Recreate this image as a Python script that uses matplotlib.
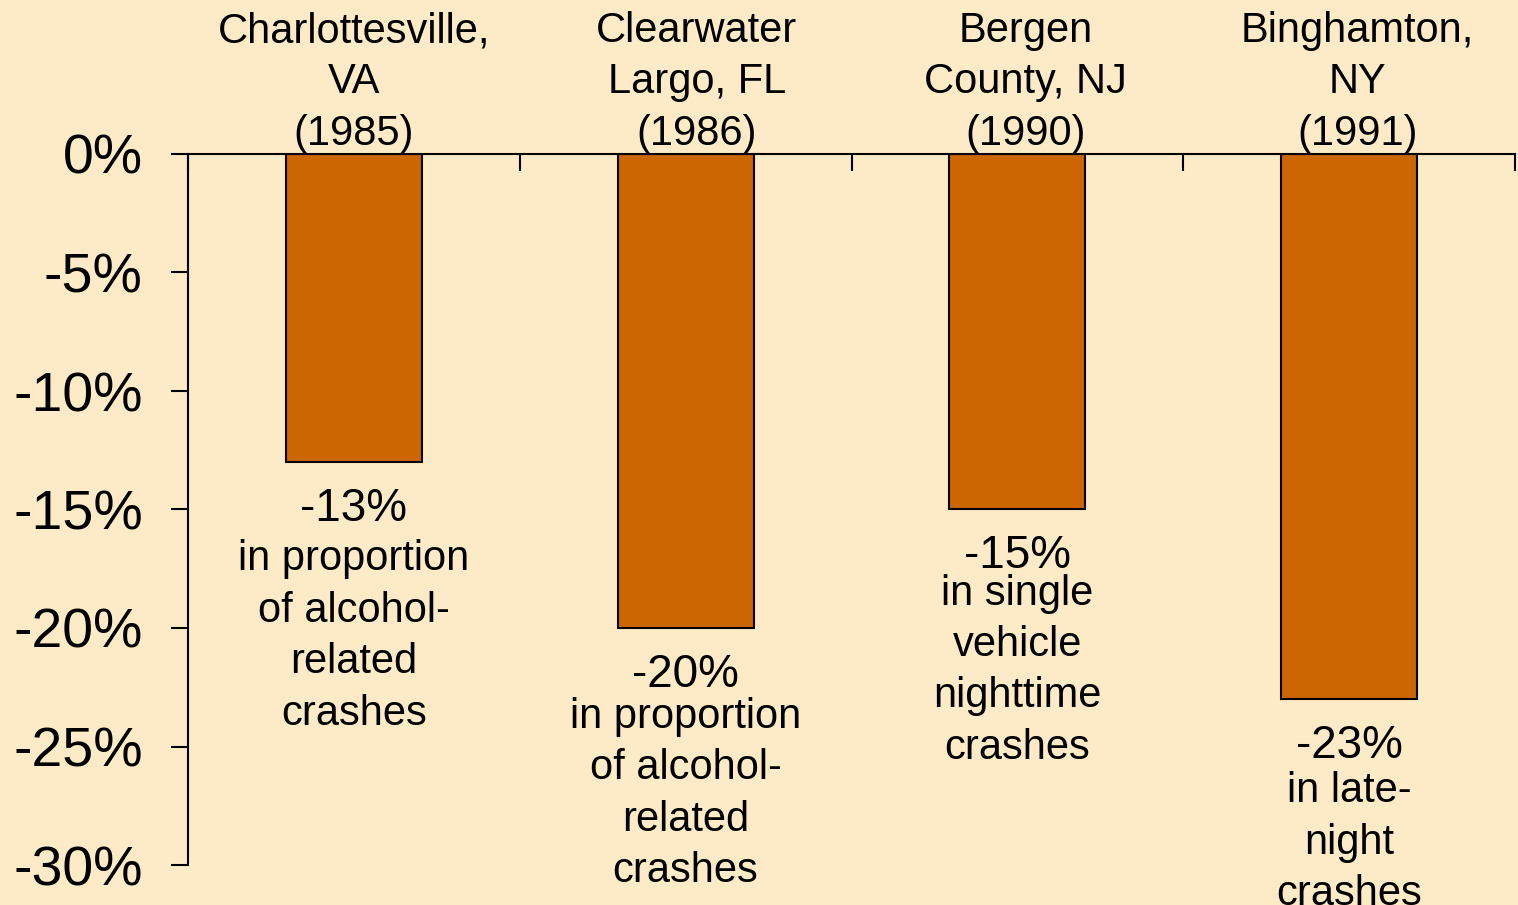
import matplotlib.pyplot as plt
import matplotlib.transforms as mtransforms

# data
places = ['Charlottesville,\nVA\n(1985)', 'Clearwater\nLargo, FL\n(1986)',
          'Bergen\nCounty, NJ\n(1990)', 'Binghamton,\nNY\n(1991)']
change = [-13, -20, -15, -23]
pct_labels = ['-13%', '-20%', '-15%', '-23%']
descriptions = ['in proportion\nof alcohol-\nrelated\ncrashes',
                'in proportion\nof alcohol-\nrelated\ncrashes',
                'in single\nvehicle\nnighttime\ncrashes',
                'in late-\nnight\ncrashes']
yticks = [0, -5, -10, -15, -20, -25, -30]

# layout tweaks (pixels)
desc_gap = [48, 40, 35, 43]
label_dx = [0, 11, 8, 8]
asc = 30  # approx. distance from text top to first baseline, px

bg = '#FDEBC8'
bar_color = '#CC6600'
fs = 30
ls = 1.37
plt.rcParams['font.family'] = ['Liberation Sans', 'DejaVu Sans']

fig = plt.figure(figsize=(15.18, 9.05), dpi=100, facecolor=bg)
ax = fig.add_axes([188/1518, 1 - 865/905, (1515-188)/1518, (865-154)/905])
ax.set_facecolor(bg)

x = range(len(change))
ax.bar(x, change, width=0.41, color=bar_color, edgecolor='black', linewidth=1.5, zorder=2)

ax.set_xlim(-0.5, 3.5)
ax.set_ylim(-30, 0)

for s in ['right', 'bottom']:
    ax.spines[s].set_visible(False)
for s in ['left', 'top']:
    ax.spines[s].set_linewidth(1.5)

ax.set_yticks(yticks)
ax.set_yticklabels([f'{v}%' for v in yticks], fontsize=40)
ax.tick_params(axis='y', direction='out', length=12.5, width=1.5, pad=20)

ax.xaxis.tick_top()
ax.set_xticks([-0.5, 0.5, 1.5, 2.5, 3.5])
ax.set_xticklabels([])
ax.tick_params(axis='x', direction='in', length=12.5, width=1.5)
for t in ax.xaxis.get_major_ticks():
    t.tick2line.set_clip_on(False)

# place names above the plot
trans = mtransforms.blended_transform_factory(ax.transData, fig.transFigure)
for i, name in enumerate(places):
    shift = mtransforms.ScaledTranslation(label_dx[i]/100, 0, fig.dpi_scale_trans)
    ax.text(i, 1 - (41 - asc)/905, name, transform=trans + shift, ha='center', va='top',
            fontsize=fs, linespacing=ls)

# change and description under each bar
for i, v in enumerate(change):
    ax.annotate(pct_labels[i], (i, v), xytext=(0, -59*0.72), textcoords='offset points',
                ha='center', va='baseline', fontsize=33, annotation_clip=False)
    ax.annotate(descriptions[i], (i, v), xytext=(0, -(59 + desc_gap[i] - asc)*0.72),
                textcoords='offset points', ha='center', va='top',
                fontsize=fs, linespacing=ls, annotation_clip=False)

plt.savefig('out.png', dpi=100, facecolor=bg)
